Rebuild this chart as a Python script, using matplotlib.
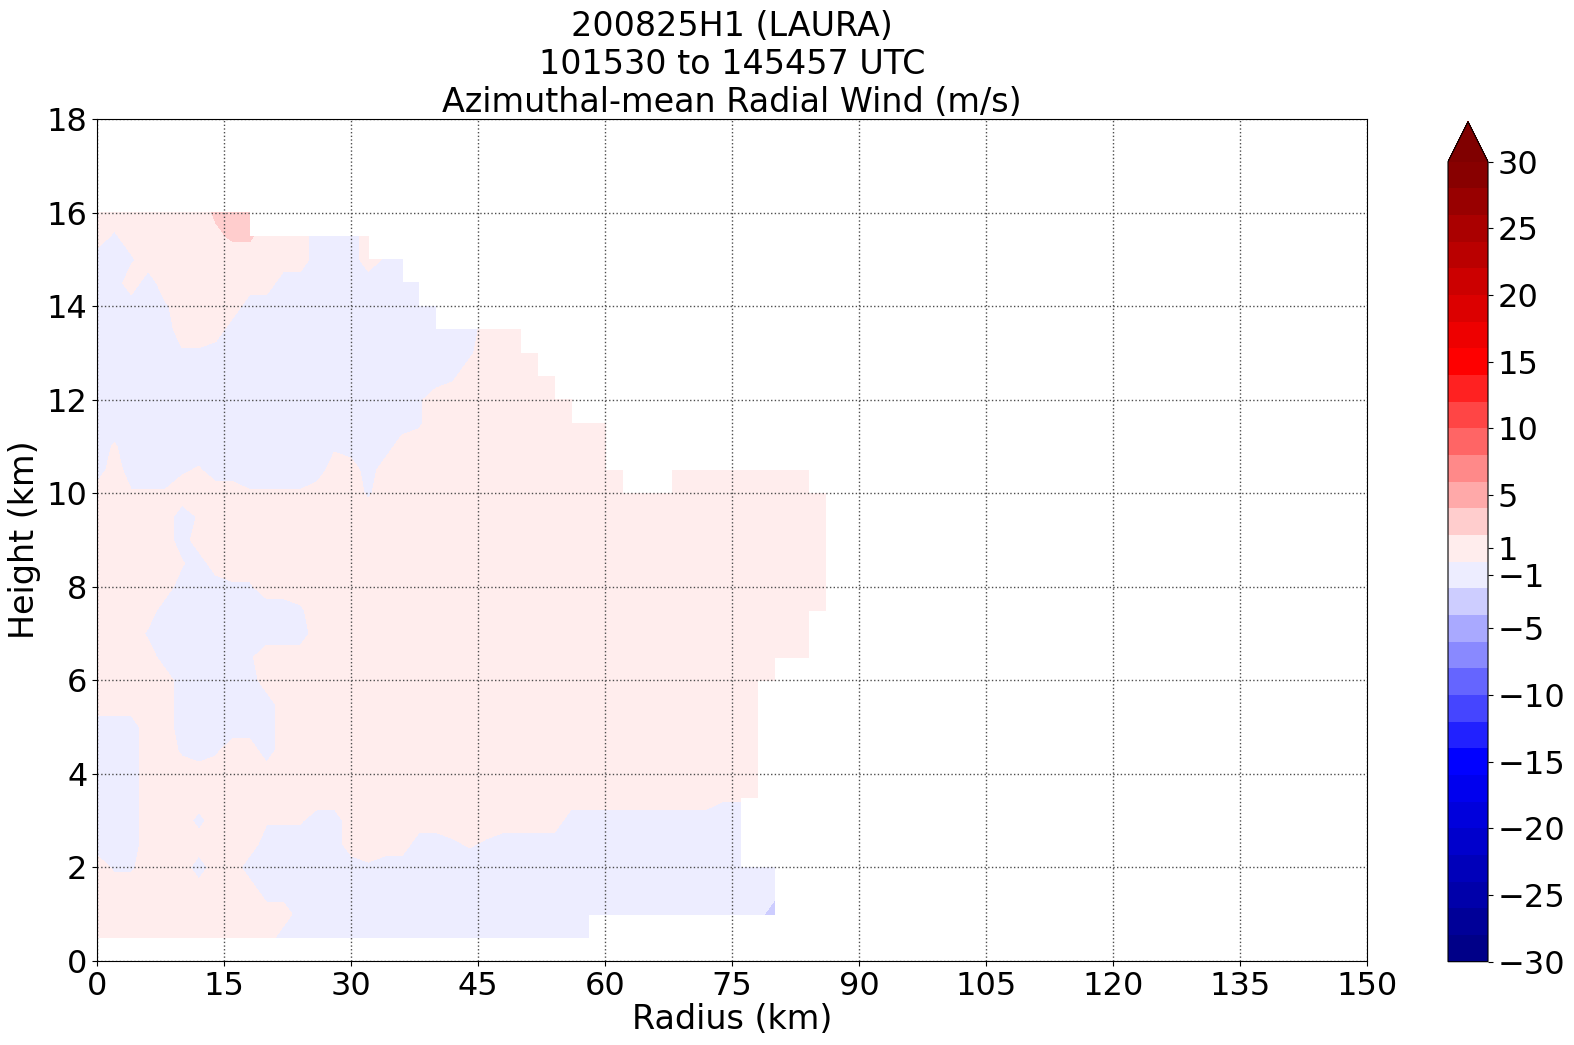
import numpy as np
import matplotlib.pyplot as plt
from matplotlib.colors import LinearSegmentedColormap

plt.rcParams['font.size'] = 23

title = "200825H1 (LAURA)\n101530 to 145457 UTC\nAzimuthal-mean Radial Wind (m/s)"

# grid of the azimuthal-mean field (radius every 2 km, height every 0.5 km)
radius = np.arange(0, 88, 2)
heights = np.arange(16.0, 0.25, -0.5)

# symbols: value class at each grid point, '.' = no data
symbols = {'+': 1.0, 'o': 0.2, 'x': -0.3, 'y': -0.6, '-': -1.0,
           'q': 1.6, 'p': 2.3, 'P': 3.5, 'B': -3.5, '.': np.nan}

wind_rows = [
    "+++++++pPP" + "." * 34,                                   # 16.0
    "+x+++++qpp+++---+" + "." * 27,                            # 15.5
    "--x" + "+" * 10 + "---+xx" + "." * 25,                    # 15.0
    "--+-" + "+" * 7 + "-" * 9 + "." * 24,                     # 14.5
    "----x++++" + "-" * 12 + "." * 23,                         # 14.0
    "-----+++" + "-" * 15 + "+++" + "." * 18,                  # 13.5
    "-----xx" + "-" * 15 + "x++++" + "." * 17,                 # 13.0
    "-" * 21 + "x" + "+" * 6 + "." * 16,                       # 12.5
    "-" * 19 + "x" + "+" * 9 + "." * 15,                       # 12.0
    "-" * 19 + "x" + "+" * 11 + "." * 13,                      # 11.5
    "-o" + "-" * 12 + "x---" + "+" * 13 + "." * 13,            # 11.0
    "-+---xo" + "-" * 7 + "++-" + "+" * 15 + ".." + "+" * 9 + ".",  # 10.5
    "++ooo++++oooo+++x" + "+" * 27,                            # 10.0
    "+++++-o" + "+" * 37,                                      # 9.5
    "+++++-" + "+" * 38,                                       # 9.0
    "+++++o-" + "+" * 37,                                      # 8.5
    "+++++---xx" + "+" * 34,                                   # 8.0
    "++++" + "-" * 8 + "x" + "+" * 31,                         # 7.5
    "+++x" + "-" * 9 + "+" * 30 + ".",                         # 7.0
    "++++-----x" + "+" * 33 + ".",                             # 6.5
    "+++++-----" + "+" * 31 + "...",                           # 6.0
    "+++++------" + "+" * 29 + "....",                         # 5.5
    "---++------" + "+" * 29 + "....",                         # 5.0
    "---++x-x++-" + "+" * 29 + "....",                         # 4.5
    "---" + "+" * 37 + "....",                                 # 4.0
    "---" + "+" * 34 + "oo+" + "....",                         # 3.5
    "---+++y+++ooo--" + "+" * 13 + "-" * 11 + ".....",         # 3.0
    "---" + "+" * 7 + "-----++++--x" + "o" + "x" + "-" * 15 + ".....",  # 2.5
    "+xx+++-++" + "-" * 7 + "x" + "-" * 24 + "...",            # 2.0
    "+" * 10 + "-" * 31 + "...",                               # 1.5
    "+" * 12 + "-" * 28 + "B" + "...",                         # 1.0
    "+" * 11 + "-" * 19 + "." * 14,                            # 0.5
]

levels = np.arange(-30, 31, 2)
cbar_ticks = [-30, -25, -20, -15, -10, -5, -1, 1, 5, 10, 15, 20, 25, 30]
x_ticks = np.arange(0, 151, 15)
y_ticks = np.arange(0, 19, 2)

wind = np.array([[symbols[c] for c in row] for row in wind_rows])

# navy - blue - white - red - dark red
cmap = LinearSegmentedColormap.from_list(
    'radial', [(0, 0, 0.5), (0, 0, 1), (1, 1, 1), (1, 0, 0), (0.5, 0, 0)])

fig = plt.figure(figsize=(15.74, 10.45), dpi=100)
ax = fig.add_axes([97.3 / 1574, 84 / 1045, 1269.7 / 1574, 841.7 / 1045])
cax = fig.add_axes([1448 / 1574, 83.3 / 1045, 40 / 1574, 840 / 1045])

cf = ax.contourf(radius, heights[::-1], wind[::-1], levels=levels,
                 cmap=cmap, extend='max', corner_mask=False)

ax.set_xlim(0, 150)
ax.set_ylim(0, 18)
ax.set_xticks(x_ticks)
ax.set_yticks(y_ticks)
ax.grid(True, linestyle=':', color='0.3', linewidth=1)
ax.set_xlabel('Radius (km)', fontsize=24, labelpad=1)
ax.set_ylabel('Height (km)', fontsize=24)
ax.set_title(title, fontsize=24, pad=4)

cb = fig.colorbar(cf, cax=cax, ticks=cbar_ticks)

fig.savefig('out.png', dpi=100)
